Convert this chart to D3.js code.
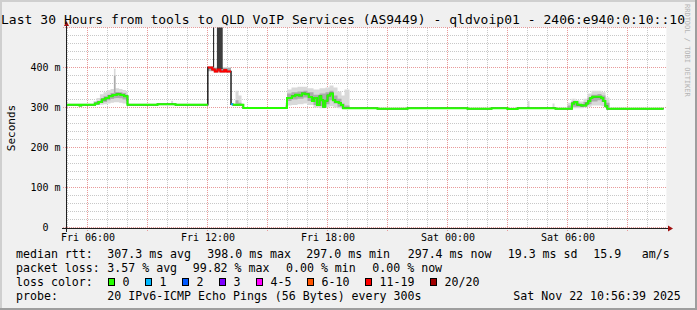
<!DOCTYPE html>
<html>
<head>
<meta charset="utf-8">
<title>Last 30 Hours from tools to QLD VoIP Services</title>
<script src="https://cdn.jsdelivr.net/npm/d3@7"></script>
<style>
  body { margin: 0; background: #f0f0f0; }
  svg { display: block; font-family: "DejaVu Sans Mono", monospace; }
  .grid-minor { stroke: #c8c8c8; stroke-dasharray: 1,1; shape-rendering: crispEdges; }
  .grid-major { stroke: #e89a9a; stroke-dasharray: 1,1; shape-rendering: crispEdges; }
  .axis text { font-size: 10px; fill: #000; font-family: "DejaVu Sans Mono", monospace; }
  .legend text { font-size: 11.6px; fill: #000; white-space: pre; }
</style>
</head>
<body>
<svg id="graph" width="697" height="310"></svg>
<script>
// hours since Fri 21 Nov 00:00, median rtt (ms), lost pings out of 20
var medianHour = [4.944, 5.60, 5.69, 6.38, 6.55, 6.72, 6.90, 7.07, 7.25, 7.45, 7.65, 7.82, 8.00, 9.50, 10.40,
  12.015, 12.24, 12.36, 12.50, 12.64, 12.84, 12.94, 13.175, 13.27, 13.79,
  15.975, 16.22, 16.39, 16.56, 16.72, 16.89, 17.06, 17.22, 17.34, 17.47, 17.60, 17.69, 17.78, 17.89,
  18.00, 18.14, 18.27, 18.39, 18.56, 18.67, 18.78, 20.50, 22.00, 25.00, 26.20, 27.00, 27.50, 29.40,
  30.22, 30.34, 30.49, 30.69, 30.94, 31.04, 31.14, 31.24, 31.69, 31.79, 31.89, 31.99, 34.80];
var medianMs = [307, 305, 307, 310, 314, 320, 324, 328, 331, 333, 331, 328, 307, 308, 307,
  400, 395, 390, 395, 390, 394, 390, 308, 307, 299,
  324, 328, 332, 330, 335, 333, 326, 316, 324, 306, 328, 318, 302, 317,
  330, 335, 318, 314, 311, 306, 298, 297, 298, 297, 298, 296, 298, 297,
  310, 314, 307, 305, 310, 316, 324, 327, 324, 316, 303, 297, 297];
var medianLoss = [0, 0, 0, 0, 0, 0, 0, 0, 0, 0, 0, 0, 0, 0, 0,
  15, 15, 14, 16, 15, 15, 15, 1, 0, 0,
  0, 0, 0, 0, 0, 0, 0, 0, 0, 0, 0, 0, 0, 0,
  0, 0, 0, 0, 0, 0, 0, 0, 0, 0, 0, 0, 0, 0,
  0, 0, 0, 0, 0, 0, 0, 0, 0, 0, 0, 0, 0];

// smoke: spread of the 20 pings (outer) and of the middle pings (core), ms
var smokeHour = [4.944, 6.30, 6.45, 6.62, 6.80, 6.98, 7.15, 7.32, 7.40, 7.58, 7.75, 7.92, 8.00, 10.18, 10.28,
  12.015, 13.175, 13.40, 13.55, 13.70, 13.79, 15.90, 15.975, 16.20, 16.50, 16.80, 17.00, 17.30, 17.60,
  17.90, 18.10, 18.30, 18.50, 18.70, 18.85, 19.10, 28.00, 28.10, 29.25, 29.35,
  30.00, 30.20, 30.40, 30.60, 30.80, 31.00, 31.20, 31.50, 31.70, 31.90, 32.10, 34.80];
var smokeLo = [305, 306, 306, 307, 308, 310, 312, 313, 313, 312, 310, 309, 305, 305, 305,
  390, 306, 304, 305, 305, 297, 297, 305, 306, 308, 310, 306, 300, 298,
  300, 303, 300, 298, 297, 296, 296, 296, 296, 296, 296,
  297, 298, 298, 298, 300, 302, 305, 305, 303, 298, 296, 296];
var smokeHi = [310, 316, 324, 333, 338, 343, 346, 397, 348, 346, 344, 340, 310, 317, 310,
  401, 310, 342, 330, 310, 301, 312, 345, 350, 352, 352, 348, 345, 348,
  350, 355, 350, 340, 330, 345, 300, 316, 300, 310, 300,
  312, 322, 318, 315, 322, 335, 342, 342, 338, 325, 300, 300];
var coreLo = [306, 307, 308, 311, 314, 318, 321, 323, 324, 323, 320, 316, 306, 306, 306,
  392, 306, 306, 306, 306, 298, 298, 316, 320, 322, 325, 316, 306, 304,
  308, 318, 310, 302, 298, 297, 297, 297, 297, 297, 297,
  298, 302, 302, 301, 304, 308, 315, 318, 314, 300, 297, 297];
var coreHi = [309, 312, 316, 322, 328, 332, 336, 380, 339, 338, 336, 332, 309, 311, 309,
  399, 309, 318, 312, 309, 300, 305, 335, 338, 340, 342, 338, 332, 335,
  338, 342, 330, 322, 310, 305, 299, 302, 299, 301, 299,
  305, 315, 312, 309, 314, 325, 332, 334, 330, 312, 299, 299];

// the few pings that came back during the loss burst (ms, above the top of the graph)
var sparseStart = [12.28, 12.47];
var sparseEnd = [12.33, 12.76];
var sparseLo = [400, 396];
var sparseHi = [900, 900];
var sparseReturned = [1, 2];

var lossLabels = ["0", "1", "2", "3", "4-5", "6-10", "11-19", "20/20"];
var lossColors = ["#26ff00", "#00b8ff", "#0059ff", "#7e00ff", "#ff00ff", "#ff5500", "#ff0000", "#a10000"];
var lossThresholds = [1, 2, 3, 4, 6, 11, 20];

var yTicks = [0, 100, 200, 300, 400];

var statsRtt = [["median rtt:", 16], ["307.3 ms avg", 107.3], ["398.0 ms max", 207.3], ["297.0 ms min", 306.3],
  ["297.4 ms now", 407.7], ["19.3 ms sd", 507.7], ["15.9", 593.3], ["am/s", 641.7]];
var statsLoss = [["packet loss:", 16], ["3.57 % avg", 107.3], ["99.82 % max", 192.7], ["0.00 % min", 286],
  ["0.00 % now", 372.3]];
var probeRow = [["probe:", 16], ["20 IPv6-ICMP Echo Pings (56 Bytes) every 300s", 107.3],
  ["Sat Nov 22 10:56:39 2025", 513.3]];

var titleText = "Last 30 Hours from tools to QLD VoIP Services (AS9449) - qldvoip01 - 2406:e940:0:10::10";

var friday = new Date(2025, 10, 21);
function at(h) { return new Date(friday.getTime() + h * 3600e3); }

var svg = d3.select("#graph");

// frame
svg.append("rect").attr("width", 697).attr("height", 310).attr("fill", "#f0f0f0");
svg.append("path").attr("d", "M0,1H696M1,0V309").attr("stroke", "#cfcfcf").attr("stroke-width", 2);
svg.append("path").attr("d", "M0,309H697M696,0V310").attr("stroke", "#9e9e9e").attr("stroke-width", 2);

var x = d3.scaleTime()
  .domain([new Date(2025, 10, 21, 4, 56, 39), new Date(2025, 10, 22, 10, 56, 39)])
  .range([66.4, 666.4]);
var y = d3.scaleLinear().domain([0, 500]).range([227.5, 27.5]);

var plotL = x.range()[0], plotR = x.range()[1], plotT = y.range()[1], plotB = y.range()[0];

svg.append("rect").attr("x", plotL).attr("y", plotT).attr("width", plotR - plotL).attr("height", plotB - plotT)
  .attr("fill", "#fff");

svg.append("clipPath").attr("id", "plot")
  .append("rect").attr("x", plotL).attr("y", plotT).attr("width", plotR - plotL).attr("height", plotB - plotT);

// grid
var grid = svg.append("g");
var majorTimes = x.ticks(d3.timeHour.every(3)).map(function(d) { return +d; });
grid.selectAll(".vmin").data(x.ticks(d3.timeHour.every(1)).filter(function(d) { return majorTimes.indexOf(+d) < 0; }))
  .enter().append("line").attr("class", "grid-minor")
  .attr("x1", function(d) { return Math.floor(x(d)) + 0.5; }).attr("x2", function(d) { return Math.floor(x(d)) + 0.5; })
  .attr("y1", plotT).attr("y2", plotB);
grid.selectAll(".hmin").data(y.ticks(25).filter(function(d) { return d % 100 !== 0; }))
  .enter().append("line").attr("class", "grid-minor")
  .attr("x1", plotL).attr("x2", plotR).attr("y1", function(d) { return y(d); }).attr("y2", function(d) { return y(d); });
grid.selectAll(".vmaj").data(x.ticks(d3.timeHour.every(3)))
  .enter().append("line").attr("class", "grid-major")
  .attr("x1", function(d) { return Math.floor(x(d)) + 0.5; }).attr("x2", function(d) { return Math.floor(x(d)) + 0.5; })
  .attr("y1", plotT).attr("y2", plotB + 3);
grid.selectAll(".hmaj").data(yTicks.concat([500]))
  .enter().append("line").attr("class", "grid-major")
  .attr("x1", plotL - 3).attr("x2", plotR).attr("y1", function(d) { return y(d); }).attr("y2", function(d) { return y(d); });

// smoke
var plot = svg.append("g").attr("clip-path", "url(#plot)");
var smokeRows = smokeHour.map(function(h, i) { return i; });
var outer = d3.area().curve(d3.curveStepAfter)
  .x(function(i) { return x(at(smokeHour[i])); })
  .y0(function(i) { return y(smokeLo[i]); })
  .y1(function(i) { return y(smokeHi[i]); });
var core = d3.area().curve(d3.curveStepAfter)
  .x(function(i) { return x(at(smokeHour[i])); })
  .y0(function(i) { return y(coreLo[i]); })
  .y1(function(i) { return y(coreHi[i]); });
plot.append("path").attr("d", outer(smokeRows)).attr("fill", "#d9d9d9");
plot.append("path").attr("d", core(smokeRows)).attr("fill", "#ababab");

var sparseShade = d3.scaleOrdinal().domain([1, 2]).range(["#111", "#3d3d3d"]);
plot.selectAll(".sparse").data(sparseStart).enter().append("rect")
  .attr("x", function(d, i) { return x(at(sparseStart[i])); })
  .attr("width", function(d, i) { return x(at(sparseEnd[i])) - x(at(sparseStart[i])); })
  .attr("y", function(d, i) { return y(sparseHi[i]); })
  .attr("height", function(d, i) { return y(sparseLo[i]) - y(sparseHi[i]); })
  .attr("fill", function(d, i) { return sparseShade(sparseReturned[i]); });

// median: thin dark line, then loss coloured segments
var lossColor = d3.scaleThreshold().domain(lossThresholds).range(lossColors);
var n = medianHour.length;
var medPts = medianHour.map(function(h, i) { return [x(at(h)), y(medianMs[i])]; });
var step = d3.line().curve(d3.curveStepAfter);
plot.append("path").attr("d", step(medPts)).attr("fill", "none").attr("stroke", "#202020").attr("stroke-width", 1.5);

var runs = [], cur = null;
for (var i = 0; i < n - 1; i++) {
  var c = lossColor(medianLoss[i]);
  if (!cur || cur.color !== c) { cur = { color: c, pts: [] }; runs.push(cur); }
  cur.pts.push(medPts[i]);
  if (i === n - 2 || lossColor(medianLoss[i + 1]) !== c) cur.pts.push([medPts[i + 1][0], medPts[i][1]]);
}
plot.selectAll(".med").data(runs).enter().append("path")
  .attr("d", function(r) { return step(r.pts); })
  .attr("fill", "none").attr("stroke-width", 2)
  .attr("stroke", function(r) { return r.color; });

// axes
var xAxis = svg.append("g").attr("class", "axis").attr("transform", "translate(0,228)")
  .call(d3.axisBottom(x).ticks(d3.timeHour.every(6)).tickFormat(d3.timeFormat("%a %H:%M")).tickSize(0).tickPadding(6));
xAxis.select(".domain").remove();
var yAxis = svg.append("g").attr("class", "axis").attr("transform", "translate(66.5,0)")
  .call(d3.axisLeft(y).tickValues(yTicks).tickSize(0).tickPadding(6)
    .tickFormat(function(d) { return d === 0 ? "0\u00a0\u00a0" : d + " m"; }));
yAxis.select(".domain").remove();

svg.append("path").attr("d", "M62," + (plotB + 1) + "H669").attr("stroke", "#202020");
svg.append("path").attr("d", "M66.5,232V24").attr("stroke", "#202020");
svg.append("path").attr("d", "M668,225.5L673,228.5L668,231.5Z").attr("fill", "#a01010");
svg.append("path").attr("d", "M64,26L69,26L66.5,21Z").attr("fill", "#a01010");

svg.append("text").attr("transform", "translate(14.5,128) rotate(-90)").attr("text-anchor", "middle")
  .attr("font-size", 11).text("Seconds");

svg.append("text").attr("x", 1).attr("y", 23.5).attr("font-size", 13).attr("textLength", 684)
  .text(titleText);

svg.append("text").attr("transform", "translate(685,4) rotate(90)").attr("font-size", 7)
  .attr("fill", "#b4b4b4").text("RRDTOOL / TOBI OETIKER");

// legend
var legend = svg.append("g").attr("class", "legend");
function row(items, yy) {
  legend.selectAll(null).data(items).enter().append("text")
    .attr("x", function(d) { return d[1]; }).attr("y", yy).text(function(d) { return d[0]; });
}
row(statsRtt, 258);
row(statsLoss, 272);
row([["loss color:", 16]], 286);
row(probeRow, 300);

var bx = 108.5;
lossLabels.forEach(function(lab, i) {
  legend.append("rect").attr("x", bx).attr("y", 278.5).attr("width", 6).attr("height", 7)
    .attr("fill", lossColors[i]).attr("stroke", "#000");
  legend.append("text").attr("x", bx + 14).attr("y", 286).text(lab);
  bx += 14 + lab.length * 7 + 16;
});
</script>
</body>
</html>
